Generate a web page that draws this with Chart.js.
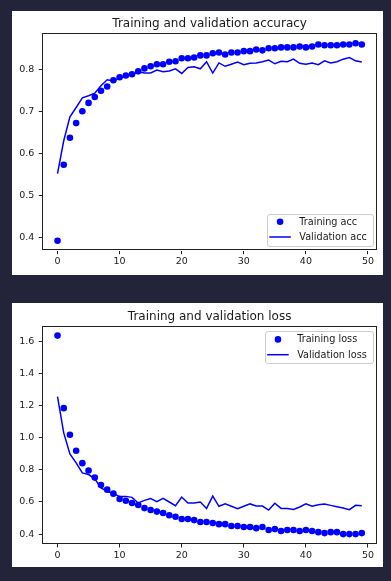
<!DOCTYPE html>
<html>
<head>
<meta charset="utf-8">
<script src="https://cdn.jsdelivr.net/npm/chart.js@4.4.1/dist/chart.umd.min.js"></script>
<style>
  html, body { margin: 0; padding: 0; background: #232339; width: 391px; height: 581px; overflow: hidden; }
  .panel { position: absolute; left: 12px; width: 371px; height: 264px; background: #ffffff; }
  #p1 { top: 11px; }
  #p2 { top: 303px; }
  canvas { display: block; }
</style>
</head>
<body>
<div class="panel" id="p1"><canvas id="c1" width="371" height="264"></canvas></div>
<div class="panel" id="p2"><canvas id="c2" width="371" height="264"></canvas></div>
<script>
const epochs = [0,1,2,3,4,5,6,7,8,9,10,11,12,13,14,15,16,17,18,19,20,21,22,23,24,25,26,27,28,29,30,31,32,33,34,35,36,37,38,39,40,41,42,43,44,45,46,47,48,49];

const trainAcc = [0.393,0.574,0.638,0.673,0.701,0.721,0.735,0.750,0.760,0.775,0.782,0.786,0.789,0.796,0.803,0.808,0.813,0.813,0.819,0.820,0.827,0.827,0.829,0.834,0.834,0.839,0.841,0.836,0.841,0.841,0.844,0.844,0.848,0.846,0.851,0.851,0.853,0.853,0.853,0.855,0.853,0.855,0.860,0.858,0.858,0.858,0.860,0.860,0.863,0.860];
const valAcc = [0.553,0.631,0.688,0.710,0.733,0.738,0.744,0.762,0.776,0.773,0.780,0.785,0.788,0.795,0.792,0.792,0.799,0.795,0.797,0.802,0.791,0.805,0.807,0.802,0.819,0.792,0.816,0.808,0.813,0.818,0.812,0.815,0.816,0.819,0.823,0.814,0.820,0.819,0.825,0.815,0.813,0.816,0.812,0.821,0.816,0.819,0.825,0.829,0.821,0.818];

const trainLoss = [1.637,1.185,1.019,0.919,0.842,0.796,0.752,0.706,0.677,0.652,0.619,0.608,0.594,0.581,0.562,0.550,0.540,0.531,0.517,0.508,0.494,0.494,0.487,0.475,0.475,0.469,0.462,0.462,0.450,0.450,0.444,0.444,0.437,0.444,0.425,0.431,0.419,0.425,0.425,0.419,0.425,0.419,0.412,0.406,0.412,0.412,0.400,0.400,0.400,0.406];
const valLoss = [1.256,1.031,0.900,0.844,0.781,0.771,0.744,0.688,0.667,0.652,0.635,0.635,0.629,0.594,0.610,0.621,0.602,0.623,0.600,0.577,0.631,0.594,0.594,0.600,0.560,0.637,0.573,0.588,0.573,0.558,0.573,0.588,0.575,0.575,0.550,0.592,0.560,0.560,0.554,0.569,0.588,0.573,0.583,0.588,0.579,0.571,0.563,0.552,0.579,0.577];

const xTicks = [0,10,20,30,40,50];
const yTicksAcc = [0.4,0.5,0.6,0.7,0.8];
const yTicksLoss = [0.4,0.6,0.8,1.0,1.2,1.4,1.6];

const titles = ['Training and validation accuracy', 'Training and validation loss'];
const legendLabels = [['Training acc','Validation acc'], ['Training loss','Validation loss']];

const FONT = 'DejaVu Sans';
const BLUE = '#0000ff';
const INK = '#1a1a1a';

function pts(ys) { return epochs.map((e, i) => ({ x: e, y: ys[i] })); }

function limits(arrs) {
  let lo = Infinity, hi = -Infinity;
  arrs.forEach(a => a.forEach(v => { lo = Math.min(lo, v); hi = Math.max(hi, v); }));
  const m = (hi - lo) * 0.05;
  return [lo - m, hi + m];
}

const framePlugin = {
  id: 'frame',
  afterDraw(chart) {
    const a = chart.chartArea, ctx = chart.ctx;
    ctx.save();
    ctx.strokeStyle = '#222222';
    ctx.lineWidth = 1;
    ctx.strokeRect(Math.round(a.left) + 0.5, Math.round(a.top) + 0.5, Math.round(a.right - a.left) - 1, Math.round(a.bottom - a.top) - 1);
    ctx.restore();
  }
};

const titlePlugin = {
  id: 'mplTitle',
  afterDraw(chart, args, opts) {
    const a = chart.chartArea, ctx = chart.ctx;
    ctx.save();
    ctx.font = '12px "' + FONT + '"';
    ctx.fillStyle = INK;
    ctx.textAlign = 'center';
    ctx.textBaseline = 'middle';
    ctx.fillText(opts.text, (a.left + a.right) / 2, opts.y);
    ctx.restore();
  }
};

const legendPlugin = {
  id: 'mplLegend',
  afterDraw(chart, args, opts) {
    const a = chart.chartArea, ctx = chart.ctx;
    ctx.save();
    ctx.font = '9.7px "' + FONT + '"';
    const tw = Math.max(...opts.labels.map(l => ctx.measureText(l).width));
    const w = 32.5 + tw + 5.5, h = 32.3;
    const x = a.right - 4.7 - w;
    const y = opts.where === 'bottom' ? a.bottom - 4.7 - h : a.top + 5.7;
    ctx.fillStyle = 'rgba(255,255,255,0.8)';
    ctx.strokeStyle = '#cccccc';
    ctx.lineWidth = 1;
    ctx.beginPath();
    ctx.roundRect(Math.round(x) + 0.5, Math.round(y) + 0.5, Math.round(w), Math.round(h), 2.5);
    ctx.fill();
    ctx.stroke();
    const r1 = y + 8, r2 = y + 23.3;
    ctx.fillStyle = BLUE;
    ctx.beginPath();
    ctx.arc(x + 13.3, r1, 3.3, 0, Math.PI * 2);
    ctx.fill();
    ctx.strokeStyle = BLUE;
    ctx.lineWidth = 1.5;
    ctx.beginPath();
    ctx.moveTo(x + 2.5, r2);
    ctx.lineTo(x + 24, r2);
    ctx.stroke();
    ctx.fillStyle = INK;
    ctx.textBaseline = 'middle';
    ctx.textAlign = 'left';
    ctx.fillText(opts.labels[0], x + 32.5, r1 + 0.5);
    ctx.fillText(opts.labels[1], x + 32.5, r2 + 0.5);
    ctx.restore();
  }
};

function makeChart(id, train, val, yTicks, title, labels, where, geo) {
  const [ymin, ymax] = limits([train, val]);
  return new Chart(document.getElementById(id), {
    type: 'line',
    data: {
      datasets: [
        { label: labels[0], data: pts(train), showLine: false, pointRadius: 3.3, pointHoverRadius: 3.3,
          pointBackgroundColor: BLUE, pointBorderWidth: 0, borderColor: BLUE, order: 1 },
        { label: labels[1], data: pts(val), pointRadius: 0, borderColor: BLUE, borderWidth: 1.5,
          tension: 0, fill: false, order: 0 }
      ]
    },
    options: {
      responsive: false,
      animation: false,
      events: [],
      layout: { padding: { left: 0, right: 6, top: geo.top, bottom: 0 } },
      plugins: {
        legend: { display: false },
        tooltip: { enabled: false },
        title: { display: false },
        mplTitle: { text: title, y: geo.ty },
        mplLegend: { labels: labels, where: where }
      },
      scales: {
        x: {
          type: 'linear', min: -2.45, max: 51.45,
          afterBuildTicks: s => { s.ticks = xTicks.map(v => ({ value: v })); },
          afterFit: s => { s.height = geo.xh; },
          grid: { drawOnChartArea: false, drawTicks: true, tickLength: 3.5, color: '#222222', lineWidth: 1 },
          border: { display: false },
          ticks: { color: INK, padding: 2, maxRotation: 0, font: { family: FONT, size: 9.5 },
                   callback: v => String(v) }
        },
        y: {
          type: 'linear', min: ymin, max: ymax,
          afterBuildTicks: s => { s.ticks = yTicks.map(v => ({ value: v })); },
          afterFit: s => { s.width = 30.3; },
          grid: { drawOnChartArea: false, drawTicks: true, tickLength: 3.5, color: '#222222', lineWidth: 1 },
          border: { display: false },
          ticks: { color: INK, padding: 4.5, font: { family: FONT, size: 9.5 },
                   callback: v => Number(v).toFixed(1) }
        }
      }
    },
    plugins: [framePlugin, titlePlugin, legendPlugin]
  });
}

makeChart('c1', trainAcc, valAcc, yTicksAcc, titles[0], legendLabels[0], 'bottom', { top: 22.3, ty: 12.9, xh: 24.3 });
makeChart('c2', trainLoss, valLoss, yTicksLoss, titles[1], legendLabels[1], 'top', { top: 22.7, ty: 13.4, xh: 23 });
</script>
</body>
</html>
